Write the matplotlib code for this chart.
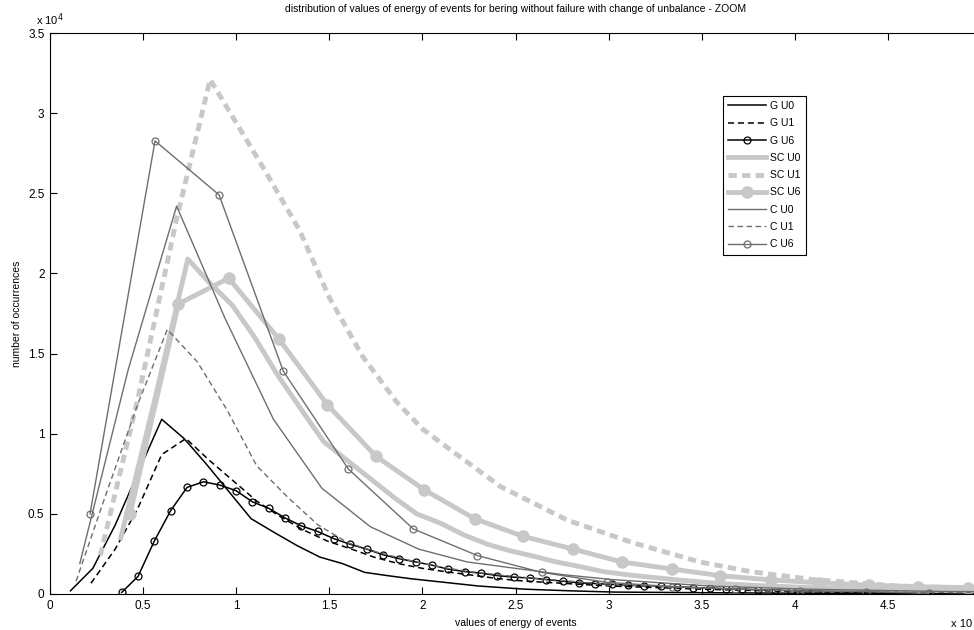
import matplotlib
matplotlib.use("Agg")
import matplotlib.pyplot as plt
from matplotlib.ticker import FormatStrFormatter

plt.rcParams['font.family'] = ['Liberation Sans', 'DejaVu Sans']

# energy values are in units of 10^?, counts in units of 10^4
g_u0_x = [0.11, 0.23, 0.35, 0.47, 0.60, 0.72, 0.84, 0.96, 1.08, 1.21, 1.33, 1.45, 1.57,
          1.69, 1.81, 1.94, 2.06, 2.30, 2.55, 2.79, 3.03, 3.52, 4.0, 4.5, 5.0]
g_u0_y = [0.02, 0.16, 0.43, 0.75, 1.09, 0.97, 0.81, 0.64, 0.47, 0.38, 0.30, 0.23, 0.19,
          0.135, 0.115, 0.095, 0.08, 0.05, 0.03, 0.02, 0.012, 0.008, 0.005, 0.004, 0.003]

g_u1_x = [0.22, 0.35, 0.47, 0.60, 0.73, 0.85, 0.98, 1.11, 1.24, 1.36, 1.49, 1.62, 1.74,
          1.87, 2.0, 2.12, 2.25, 2.38, 2.5, 2.63, 3.0, 3.5, 4.0, 4.5, 5.0]
g_u1_y = [0.067, 0.28, 0.53, 0.87, 0.97, 0.84, 0.71, 0.58, 0.48, 0.40, 0.33, 0.28, 0.23,
          0.19, 0.16, 0.14, 0.12, 0.10, 0.085, 0.075, 0.05, 0.03, 0.015, 0.01, 0.006]

g_u6_x = [0.385, 0.473, 0.560, 0.648, 0.736, 0.824, 0.911, 0.999, 1.087, 1.174, 1.262,
          1.350, 1.437, 1.525, 1.613, 1.701, 1.788, 1.876, 1.964, 2.051, 2.139, 2.227,
          2.314, 2.402, 2.490, 2.578, 2.665, 2.753, 2.841, 2.928, 3.016, 3.104, 3.191,
          3.279, 3.367, 3.455, 3.542, 3.630, 3.718, 3.805, 3.893, 3.981, 4.068, 4.156,
          4.244, 4.332, 4.419, 4.507, 4.595, 4.682, 4.770, 4.858, 4.945]
g_u6_y = [0.01, 0.11, 0.33, 0.52, 0.665, 0.70, 0.68, 0.645, 0.575, 0.535, 0.475, 0.425,
          0.39, 0.345, 0.31, 0.28, 0.245, 0.22, 0.20, 0.18, 0.155, 0.14, 0.13, 0.115,
          0.105, 0.10, 0.09, 0.08, 0.07, 0.065, 0.06, 0.055, 0.05, 0.048, 0.045, 0.04,
          0.037, 0.033, 0.03, 0.027, 0.024, 0.021, 0.019, 0.017, 0.015, 0.013, 0.012,
          0.011, 0.01, 0.009, 0.008, 0.007, 0.006]

sc_u0_x = [0.38, 0.56, 0.74, 0.85, 0.98, 1.1, 1.22, 1.35, 1.47, 1.6, 1.72, 1.85, 1.97,
           2.1, 2.22, 2.35, 2.47, 2.6, 2.72, 2.85, 2.97, 3.1, 3.35, 3.6, 3.85, 4.1, 4.35,
           4.6, 4.85, 5.0]
sc_u0_y = [0.35, 1.2, 2.09, 1.95, 1.80, 1.60, 1.37, 1.15, 0.95, 0.83, 0.72, 0.60, 0.50,
           0.44, 0.37, 0.31, 0.27, 0.235, 0.2, 0.17, 0.14, 0.12, 0.09, 0.065, 0.05, 0.04,
           0.03, 0.025, 0.02, 0.02]

sc_u1_x = [0.27, 0.47, 0.68, 0.86, 1.0, 1.15, 1.34, 1.5, 1.68, 1.86, 2.0, 2.15, 2.42,
           2.78, 3.13, 3.49, 3.76, 4.1, 4.55, 5.0]
sc_u1_y = [0.24, 1.21, 2.34, 3.21, 2.94, 2.65, 2.27, 1.85, 1.48, 1.2, 1.03, 0.9, 0.67,
           0.46, 0.32, 0.20, 0.14, 0.09, 0.05, 0.035]

sc_u6_x = [0.43, 0.69, 0.96, 1.23, 1.49, 1.75, 2.01, 2.28, 2.54, 2.81, 3.07, 3.34, 3.60,
           3.87, 4.13, 4.40, 4.66, 4.93]
sc_u6_y = [0.5, 1.81, 1.97, 1.59, 1.18, 0.86, 0.65, 0.47, 0.36, 0.28, 0.20, 0.156, 0.114,
           0.088, 0.07, 0.055, 0.045, 0.04]

c_u0_x = [0.16, 0.42, 0.68, 0.94, 1.20, 1.46, 1.72, 1.98, 2.24, 2.50, 2.76, 3.02, 3.28,
          3.54, 3.80, 4.06, 4.32, 4.58, 4.84, 5.0]
c_u0_y = [0.19, 1.40, 2.42, 1.72, 1.09, 0.66, 0.42, 0.28, 0.2, 0.16, 0.12, 0.09, 0.07,
          0.05, 0.04, 0.03, 0.025, 0.02, 0.015, 0.015]

c_u1_x = [0.14, 0.30, 0.47, 0.63, 0.79, 0.95, 1.11, 1.28, 1.44, 1.6, 1.76, 1.93, 2.09,
          2.25, 2.41, 2.58, 2.9, 3.2, 3.55, 4.0, 4.5, 5.0]
c_u1_y = [0.08, 0.62, 1.18, 1.65, 1.45, 1.15, 0.80, 0.60, 0.43, 0.32, 0.26, 0.21, 0.17,
          0.14, 0.12, 0.10, 0.07, 0.05, 0.035, 0.02, 0.012, 0.008]

c_u6_x = [0.215, 0.564, 0.908, 1.253, 1.602, 1.951, 2.295, 2.64, 2.99, 3.34, 3.68, 4.03,
          4.38, 4.72]
c_u6_y = [0.5, 2.827, 2.49, 1.39, 0.78, 0.406, 0.24, 0.135, 0.073, 0.046, 0.031, 0.019,
          0.015, 0.004]

x_ticks = [0, 0.5, 1, 1.5, 2, 2.5, 3, 3.5, 4, 4.5, 5]
x_tick_labels = ['0', '0.5', '1', '1.5', '2', '2.5', '3', '3.5', '4', '4.5', '']
y_ticks = [0, 0.5, 1, 1.5, 2, 2.5, 3, 3.5]

black = 'black'
light = '#c8c8c8'
mid = '#6e6e6e'

fig = plt.figure(figsize=(9.74, 6.3), dpi=100)
ax = fig.add_axes([50 / 974, 36 / 630, 931 / 974, 561 / 630])

ax.plot(g_u0_x, g_u0_y, color=black, lw=1.1, label='G U0')
ax.plot(g_u1_x, g_u1_y, color=black, lw=1.1, ls=(0, (4, 2.5)), label='G U1')
ax.plot(g_u6_x, g_u6_y, color=black, lw=1.1, marker='o', ms=5, mfc='none', mew=0.9,
        label='G U6')
ax.plot(sc_u0_x, sc_u0_y, color=light, lw=3.5, label='SC U0')
ax.plot(sc_u1_x, sc_u1_y, color=light, lw=3.5, ls=(0, (1.7, 1.1)), label='SC U1')
ax.plot(sc_u6_x, sc_u6_y, color=light, lw=3.5, marker='o', ms=8, mfc=light, mec=light,
        label='SC U6')
ax.plot(c_u0_x, c_u0_y, color=mid, lw=1.0, label='C U0')
ax.plot(c_u1_x, c_u1_y, color=mid, lw=1.0, ls=(0, (4, 2.5)), label='C U1')
ax.plot(c_u6_x, c_u6_y, color=mid, lw=1.0, marker='o', ms=5, mfc='none', mew=0.9,
        label='C U6')

ax.set_xlim(0, 5)
ax.set_ylim(0, 3.5)
ax.set_xticks(x_ticks)
ax.set_xticklabels(x_tick_labels)
ax.set_yticks(y_ticks)
ax.yaxis.set_major_formatter(FormatStrFormatter('%g'))
ax.tick_params(direction='in', top=True, right=True, length=5, width=0.8,
               labelsize=8.5, pad=4)
for s in ax.spines.values():
    s.set_linewidth(0.8)

ax.set_title('distribution of values of energy of events for bering without failure '
             'with change of unbalance - ZOOM', fontsize=7.5, pad=15)
ax.set_xlabel('values of energy of events', fontsize=7.5, labelpad=5)
ax.set_ylabel('number of occurrences', fontsize=7.5, labelpad=4)

fig.text(36 / 974, 1 - 20 / 630, r'x 10$^4$', fontsize=8, va='center')
fig.text(951 / 974, 1 - 624 / 630, 'x 10', fontsize=8, va='center')

leg = ax.legend(loc='upper left', bbox_to_anchor=(0.723, 0.888), borderaxespad=0,
                fontsize=7.5, fancybox=False, edgecolor='black', framealpha=1,
                handlelength=3.6, labelspacing=0.7, handletextpad=0.4,
                borderpad=0.5)
leg.get_frame().set_linewidth(0.8)

fig.savefig('out.png', dpi=100)
